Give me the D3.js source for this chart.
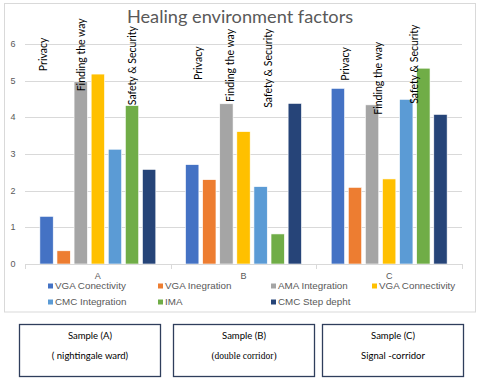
<!DOCTYPE html>
<html><head><meta charset="utf-8">
<script src="https://cdn.jsdelivr.net/npm/d3@7"></script>
<style>body{margin:0;background:#fff}svg{display:block}</style>
</head><body>
<script>
const categories = ["A", "B", "C"];
const seriesNames = ["VGA Conectivity", "VGA Inegration", "AMA Integration", "VGA Connectivity", "CMC Integration", "IMA", "CMC Step depht"];
const seriesColors = ["#4472C4", "#ED7D31", "#A5A5A5", "#FFC000", "#5B9BD5", "#70AD47", "#264478"];
const valuesA = [1.30, 0.36, 4.97, 5.18, 3.13, 4.32, 2.58];
const valuesB = [2.71, 2.30, 4.37, 3.61, 2.11, 0.82, 4.38];
const valuesC = [4.79, 2.09, 4.34, 2.32, 4.49, 5.34, 4.08];
const yTicks = [0, 1, 2, 3, 4, 5, 6];
const title = "Healing environment factors";
// annotation labels: category, series index they sit over, value at the text's lower end
const annoCat = ["A","A","A","B","B","B","C","C","C"];
const annoSeries = [0, 2, 5, 0, 2, 5, 0, 2, 5];
const annoText = ["Privacy","Finding the way","Safety & Security","Privacy","Finding the way","Safety & Security","Privacy","Finding the way","Safety & Security"];
const annoBase = [5.26, 4.71, 4.33, 5.02, 4.42, 4.26, 5.0, 4.07, 4.37];
const annoShift = [-3, 1, 0, 6, 4, -9, 7, 6, -9];
const boxTitles = ["Sample (A)", "Sample (B)", "Sample (C)"];
const boxSubs = ["( nightingale ward)", "(double corridor)", "Signal -corridor"];

const allValues = [valuesA, valuesB, valuesC];
const W = 480, H = 384;
const svg = d3.select("body").append("svg").attr("width", W).attr("height", H);
const font = "'Liberation Sans', Arial, sans-serif";
const lato = "Lato, 'Liberation Sans', sans-serif";

// chart frame
svg.append("rect").attr("x", 4.5).attr("y", 3.5).attr("width", 471).attr("height", 308.5)
  .attr("fill", "#fff").attr("stroke", "#d9d9d9").attr("stroke-width", 1);

const x0 = d3.scaleBand().domain(categories).range([25, 462]).padding(0);
const x1 = d3.scaleBand().domain(d3.range(seriesNames.length)).range([0, x0.bandwidth()])
  .paddingInner(0.22).paddingOuter(0.87);
const y = d3.scaleLinear().domain([0, 6]).range([264, 44]);

// gridlines
svg.append("g").selectAll("line").data(yTicks.filter(d => d > 0)).join("line")
  .attr("x1", 25).attr("x2", 462).attr("y1", d => Math.round(y(d)) + 0.5).attr("y2", d => Math.round(y(d)) + 0.5)
  .attr("stroke", "#d9d9d9").attr("stroke-width", 1);

// y tick labels
svg.append("g").selectAll("text").data(yTicks).join("text")
  .attr("x", 13).attr("y", d => y(d)).attr("dy", "0.35em").attr("text-anchor", "middle")
  .attr("font-family", font).attr("font-size", 9).attr("fill", "#595959").text(d => d);

// bars
const gCat = svg.append("g").selectAll("g").data(categories).join("g")
  .attr("transform", d => `translate(${x0(d)},0)`);
gCat.selectAll("rect").data((c, i) => allValues[i].map((v, j) => ({v, j}))).join("rect")
  .attr("x", d => x1(d.j)).attr("width", x1.bandwidth())
  .attr("y", d => y(d.v)).attr("height", d => y(0) - y(d.v))
  .attr("fill", d => seriesColors[d.j]).attr("stroke", "#fff").attr("stroke-width", 0.6);

// x axis
svg.append("line").attr("x1", 25).attr("x2", 462).attr("y1", 264.5).attr("y2", 264.5).attr("stroke", "#d9d9d9");
svg.append("g").selectAll("line").data([25, ...categories.map(c => x0(c) + x0.bandwidth())]).join("line")
  .attr("x1", d => Math.round(d) + 0.5).attr("x2", d => Math.round(d) + 0.5).attr("y1", 264).attr("y2", 269)
  .attr("stroke", "#d9d9d9");
svg.append("g").selectAll("text").data(categories).join("text")
  .attr("x", d => x0(d) + x0.bandwidth() / 2).attr("y", 276).attr("dy", "0.35em").attr("text-anchor", "middle")
  .attr("font-family", font).attr("font-size", 9).attr("fill", "#595959").text(d => d);

// annotations
annoText.forEach((t, i) => {
  const cx = x0(annoCat[i]) + x1(annoSeries[i]) + x1.bandwidth() / 2 + annoShift[i];
  const by = y(annoBase[i]);
  svg.append("text").attr("transform", `translate(${cx},${by}) rotate(-90)`)
    .attr("dy", "0.35em").attr("text-anchor", "start")
    .attr("font-family", lato).attr("font-size", 10.5).attr("fill", "#000").text(t);
});

// title
svg.append("text").attr("x", 240).attr("y", 17).attr("dy", "0.35em").attr("text-anchor", "middle")
  .attr("font-family", lato).attr("font-size", 18.2).attr("fill", "#595959").text(title);

// legend
const legX = [48, 158, 271, 372];
const legRow = [286, 302];
const lg = svg.append("g").selectAll("g").data(seriesNames).join("g")
  .attr("transform", (d, i) => `translate(${legX[i % 4]},${legRow[Math.floor(i / 4)]})`);
lg.append("rect").attr("x", 0).attr("y", -2.5).attr("width", 5).attr("height", 5).attr("fill", (d, i) => seriesColors[i]);
lg.append("text").attr("x", 7).attr("y", 0).attr("dy", "0.35em").attr("font-family", font)
  .attr("font-size", 9.8).attr("fill", "#595959").text(d => d);

// bottom boxes
const boxX = [19.5, 173.5, 322.5];
const bg = svg.append("g").selectAll("g").data(boxTitles).join("g")
  .attr("transform", (d, i) => `translate(${boxX[i]},324.5)`);
bg.append("rect").attr("width", 141).attr("height", 52).attr("fill", "#fff")
  .attr("stroke", "#2f3e5c").attr("stroke-width", 1.3);
bg.append("text").attr("x", 70.5).attr("y", 11.5).attr("dy", "0.35em").attr("text-anchor", "middle")
  .attr("font-family", lato).attr("font-size", 9.5).attr("fill", "#000").text(d => d);
bg.append("text").attr("x", 70.5).attr("y", 31.5).attr("dy", "0.35em").attr("text-anchor", "middle")
  .attr("font-family", (d, i) => i === 1 ? "'Liberation Serif', serif" : lato)
  .attr("font-size", 9.5).attr("fill", "#000").text((d, i) => boxSubs[i]);
</script>
</body></html>
